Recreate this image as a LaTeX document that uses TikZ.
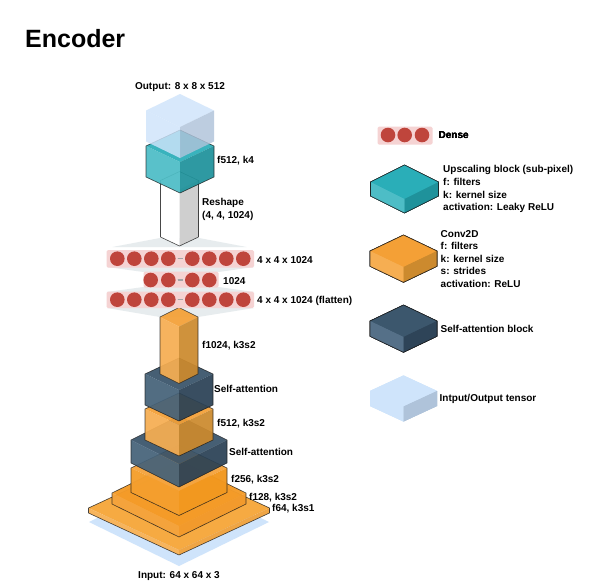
\documentclass[tikz,border=0pt]{standalone}
\usepackage{fontspec}
\setmainfont{Liberation Sans}
\definecolor{tealT}{HTML}{2AAEB8}
\definecolor{tealL}{HTML}{4DBDC6}
\definecolor{tealR}{HTML}{1F929B}
\definecolor{orngT}{HTML}{F4A036}
\definecolor{orngL}{HTML}{F6AE52}
\definecolor{orngR}{HTML}{CC8A2E}
\definecolor{lowaT}{HTML}{F6AA42}
\definecolor{lowaL}{HTML}{F7B45C}
\definecolor{lowaR}{HTML}{EFA545}
\definecolor{lowbT}{HTML}{F49B28}
\definecolor{lowbL}{HTML}{F4A33C}
\definecolor{lowbR}{HTML}{F29A2C}
\definecolor{lowcT}{HTML}{F5A540}
\definecolor{lowcL}{HTML}{F49F2E}
\definecolor{lowcR}{HTML}{F2981F}
\definecolor{navyT}{HTML}{3C576D}
\definecolor{navyL}{HTML}{557088}
\definecolor{navyR}{HTML}{2E4458}
\definecolor{nvstT}{HTML}{38536A}
\definecolor{nvstL}{HTML}{456279}
\definecolor{nvstR}{HTML}{2A4155}
\definecolor{tnsrT}{HTML}{CFE4FB}
\definecolor{tnsrL}{HTML}{CFE4FB}
\definecolor{tnsrR}{HTML}{AFC3DA}
\definecolor{whitT}{HTML}{FFFFFF}
\definecolor{whitL}{HTML}{FFFFFF}
\definecolor{whitR}{HTML}{CFCFCF}
\definecolor{barcol}{HTML}{F5D3D3}
\definecolor{ballcol}{HTML}{BF453C}
\definecolor{fancol}{HTML}{E7ECEE}
\tikzset{
  lab/.style={right,inner sep=0pt,yshift=-0.8pt,font=\bfseries\fontsize{10}{12}\selectfont},
  midlab/.style={inner sep=0pt,yshift=-0.8pt,font=\bfseries\fontsize{10}{12}\selectfont},
  multilab/.style={lab,align=left,font=\bfseries\fontsize{10}{12.6}\selectfont},
  edge/.style={draw=black!90,draw opacity=.8,line width=0.6pt,line join=round},
  noedge/.style={draw=none},
}
% #2 centre x, #3 y of back corner, #4 half width, #5 half depth, #6 height, #7 colour prefix
\newcommand{\isoblock}[8][1]{
  \fill[fill opacity=#1,#7T] (#2,#3) -- ++(#4,#5) -- ++(-#4,#5) -- ++(-#4,-#5) -- cycle;
  \fill[fill opacity=#1,#7L] (#2-#4,#3+#5) -- ++(#4,#5) -- ++(0,#6) -- ++(-#4,-#5) -- cycle;
  \fill[fill opacity=#1,#7R] (#2+#4,#3+#5) -- ++(-#4,#5) -- ++(0,#6) -- ++(#4,-#5) -- cycle;
  \path[#8] (#2,#3) -- ++(#4,#5) -- ++(0,#6) -- ++(-#4,#5) -- ++(-#4,-#5) -- ++(0,-#6) -- cycle;
}
\newcommand{\densebar}[3]{
  \fill[barcol,rounded corners=1.5pt] (#1,#2) rectangle (#3);
}
\newcommand{\denseball}[2]{
  \fill[ballcol] (#1,#2) circle (7.3);
}
\begin{document}
\begin{tikzpicture}[x=1pt,y=-1pt]
\useasboundingbox (0,0) rectangle (590,582);
\fill[white] (0,0) rectangle (590,582);
\node[right,inner sep=0pt,font=\bfseries\fontsize{25}{30}\selectfont] (title) at (25,38.5) {Encoder};

\fill[tnsrT] (179,478) -- (269,522) -- (179,566) -- (89,522) -- cycle;
\isoblock{179}{466}{90.5}{42}{5}{lowa}{edge}
\isoblock[.97]{179}{460}{67}{33}{11}{lowb}{edge}
\isoblock[.97]{179}{445}{48}{23}{24.5}{lowc}{edge}
\isoblock[.93]{179}{416}{48}{24}{23}{nvst}{edge}
\isoblock[.93]{179}{393}{34}{16}{31}{orng}{edge}
\isoblock[.93]{179}{358}{34}{16}{31}{nvst}{edge}

\fill[fancol] (107,308) -- (160,317) -- (198,317) -- (254,308) -- cycle;
\fill[fancol] (112.5,247) -- (160,238) -- (199,238) -- (246.5,247) -- cycle;
\fill[fancol] (107,267) -- (143.5,272) -- (218.5,272) -- (254,267) -- cycle;
\fill[fancol] (143.5,287) -- (107,292) -- (254,292) -- (218.5,287) -- cycle;
\isoblock[.93]{179}{307.5}{19}{9.5}{57}{orng}{edge}
\isoblock{179.5}{171.5}{19}{9}{56.5}{whit}{edge}
\isoblock[.93]{180}{130}{34}{16}{31}{teal}{edge}
\isoblock[.82]{180}{94}{34}{16.5}{31}{tnsr}{noedge}

\densebar{106.5}{250}{254,267.5}
\densebar{143.5}{271.5}{218.5,287.5}
\densebar{106.5}{291.5}{254,308}
\foreach \x in {117.3,134.3,151.3,168.3,192.3,209.3,226.3,243.3}
{
  \denseball{\x}{258.7}
  \denseball{\x}{299.7}
}
\foreach \x in {150.7,168.3,192.3,209.3}
  \denseball{\x}{280}
\foreach \y in {258.7,280,299.7}
  \draw[black!30!fancol,line width=1.2pt] (177.5,\y) -- (182.5,\y);

\node[midlab] (outlab) at (180,86) {Output: 8 x 8 x 512};
\node[midlab] (inlab) at (179,575) {Input: 64 x 64 x 3};
\node[lab] (upf) at (217,160) {f512, k4};
\node[multilab] (reshape) at (202,208.5) {Reshape\\(4, 4, 1024)};
\node[lab] (row1) at (257,259) {4 x 4 x 1024};
\node[lab] (row2) at (223,280) {1024};
\node[lab] (row3) at (257,300) {4 x 4 x 1024 (flatten)};
\node[lab] (cv1024) at (202,344.5) {f1024, k3s2};
\node[lab] (sa1) at (214,388) {Self-attention};
\node[lab] (cv512) at (217,423) {f512, k3s2};
\node[lab] (sa2) at (229,451.5) {Self-attention};
\node[lab] (cv256) at (231,479) {f256, k3s2};
\node[lab] (cv128) at (249,497) {f128, k3s2};
\node[lab] (cv64) at (272,508) {f64, k3s1};

\densebar{377.5}{126.5}{432.5,144.5}
\foreach \x in {388,404.7,422}
  \denseball{\x}{135}
\isoblock{404.5}{165}{34}{17}{14}{teal}{edge}
\isoblock{403.5}{235}{33.5}{16}{15.3}{orng}{edge}
\isoblock{403.5}{305}{33.5}{16}{15.3}{navy}{edge}
\isoblock{403.5}{375.5}{33.5}{15.5}{15}{tnsr}{noedge}
\node[lab] (lgdense) at (438.5,134) {Dense};
\node[multilab] (lgteal) at (443,188.5) {Upscaling block (sub-pixel)\\f: filters\\k: kernel size\\activation: Leaky ReLU};
\node[multilab] (lgorng) at (440.5,258) {Conv2D\\f: filters\\k: kernel size\\s: strides\\activation: ReLU};
\node[lab] (lgnavy) at (440.5,328) {Self-attention block};
\node[lab] (lgtnsr) at (439.5,398) {Intput/Output tensor};
\end{tikzpicture}
\end{document}
